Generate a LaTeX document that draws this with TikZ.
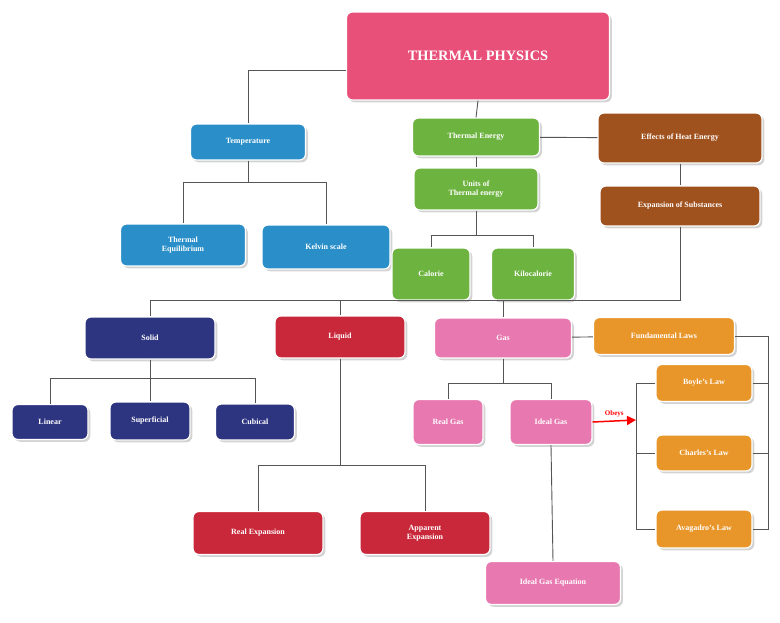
\documentclass[tikz,border=0pt]{standalone}
\usepackage{fontspec}
\setmainfont{Liberation Serif}
\usetikzlibrary{shadows,arrows.meta}
\definecolor{cpink}{HTML}{E8507A}
\definecolor{cblue}{HTML}{2A8FC8}
\definecolor{cgreen}{HTML}{6DB33F}
\definecolor{cbrown}{HTML}{A0521E}
\definecolor{cnavy}{HTML}{2E3580}
\definecolor{cred}{HTML}{C8283A}
\definecolor{cgas}{HTML}{E878B0}
\definecolor{corange}{HTML}{E8962A}
\definecolor{cline}{HTML}{555555}
\tikzset{
 bx/.style={rounded corners=6pt,draw=white,line width=1.2pt,text=white,font=\bfseries\footnotesize,align=center,inner sep=2pt,drop shadow={opacity=0.35}},
 ln/.style={draw=cline,line width=0.9pt}
}
\begin{document}
\begin{tikzpicture}[x=1pt,y=-1pt]
\useasboundingbox (0,0) rectangle (780,622);
\node[bx,fill=cpink,minimum width=263,minimum height=88,font=\bfseries\Large] (tp) at (478,56) {THERMAL PHYSICS};
\node[bx,fill=cblue,minimum width=115,minimum height=36] (temp) at (248,142) {Temperature};
\node[bx,fill=cgreen,minimum width=127,minimum height=38] (te) at (476,137) {Thermal Energy};
\node[bx,fill=cbrown,minimum width=164,minimum height=50] (eff) at (680,138) {Effects of Heat Energy};
\node[bx,fill=cgreen,minimum width=124,minimum height=42] (un) at (476,189) {Units of\\Thermal energy};
\node[bx,fill=cbrown,minimum width=160,minimum height=40] (exp) at (680,206) {Expansion of Substances};
\node[bx,fill=cblue,minimum width=125,minimum height=42] (teq) at (183,245) {Thermal\\Equilibrium};
\node[bx,fill=cblue,minimum width=128,minimum height=44] (kel) at (326,247) {Kelvin scale};
\node[bx,fill=cgreen,minimum width=78,minimum height=52] (cal) at (431,274) {Calorie};
\node[bx,fill=cgreen,minimum width=83,minimum height=52] (kcal) at (533,274) {Kilocalorie};
\node[bx,fill=cnavy,minimum width=130,minimum height=42] (sol) at (150,338) {Solid};
\node[bx,fill=cred,minimum width=130,minimum height=42] (liq) at (340,337) {Liquid};
\node[bx,fill=cgas,minimum width=137,minimum height=40] (gas) at (503,338) {Gas};
\node[bx,fill=corange,minimum width=141,minimum height=37] (fl) at (664,336) {Fundamental Laws};
\node[bx,fill=cnavy,minimum width=76,minimum height=35] (lin) at (50,422) {Linear};
\node[bx,fill=cnavy,minimum width=80,minimum height=38] (sup) at (150,421) {Superficial};
\node[bx,fill=cnavy,minimum width=79,minimum height=36] (cub) at (255,422) {Cubical};
\node[bx,fill=cgas,minimum width=70,minimum height=45] (rg) at (448,422) {Real Gas};
\node[bx,fill=cgas,minimum width=82,minimum height=45] (ig) at (551,422) {Ideal Gas};
\node[bx,fill=corange,minimum width=96,minimum height=37] (boy) at (704,383) {Boyle's Law};
\node[bx,fill=corange,minimum width=96,minimum height=36] (cha) at (704,453) {Charles's Law};
\node[bx,fill=corange,minimum width=96,minimum height=38] (ava) at (704,529) {Avagadro's Law};
\node[bx,fill=cred,minimum width=130,minimum height=43] (re) at (258,533) {Real Expansion};
\node[bx,fill=cred,minimum width=130,minimum height=43] (ae) at (425,533) {Apparent\\Expansion};
\node[bx,fill=cgas,minimum width=135,minimum height=43] (ige) at (553,583) {Ideal Gas Equation};
\coordinate (lawbus) at (636,420);
\begin{scope}[on background layer/.style={}]
\draw[ln] (tp.west |- 0,70) -| (temp.north);
\draw[ln] (tp.south) -- (te.north);
\draw[ln] (te) -- (eff);
\draw[ln] (te) -- (un);
\draw[ln] (eff) -- (exp);
\draw[ln] (temp.south) -- (248,182) -| (teq.north);
\draw[ln] (248,182) -| (kel.north);
\draw[ln] (un.south) -- (476,235) -| (cal.north);
\draw[ln] (476,235) -| (kcal.north);
\draw[ln] (exp.south) -- (680,300) -| (sol.north);
\draw[ln] (340,300) -- (liq.north);
\draw[ln] (503,300) -- (gas.north);
\draw[ln] (sol.south) -- (150,378) -| (lin.north);
\draw[ln] (150,378) -| (cub.north);
\draw[ln] (150,378) -- (sup.north);
\draw[ln] (liq.south) -- (340,465) -| (re.north);
\draw[ln] (340,465) -| (ae.north);
\draw[ln] (gas.south) -- (503,383) -| (rg.north);
\draw[ln] (503,383) -| (ig.north);
\draw[ln] (gas) -- (fl);
\draw[ln] (fl.east) -- (768,336) |- (ava.east);
\draw[ln] (768,383) -- (boy.east);
\draw[ln] (768,453) -- (cha.east);
\draw[ln] (boy.west) -- (636,383) |- (ava.west);
\draw[ln] (636,453) -- (cha.west);
\draw[ln] (ig.south) -- (ige.north);
\end{scope}
\draw[red,line width=1.5pt,-{Triangle[length=9pt,width=9pt]}] (ig.east) -- node[above,font=\bfseries\scriptsize,text=red]{Obeys} (lawbus);
\end{tikzpicture}
\end{document}
